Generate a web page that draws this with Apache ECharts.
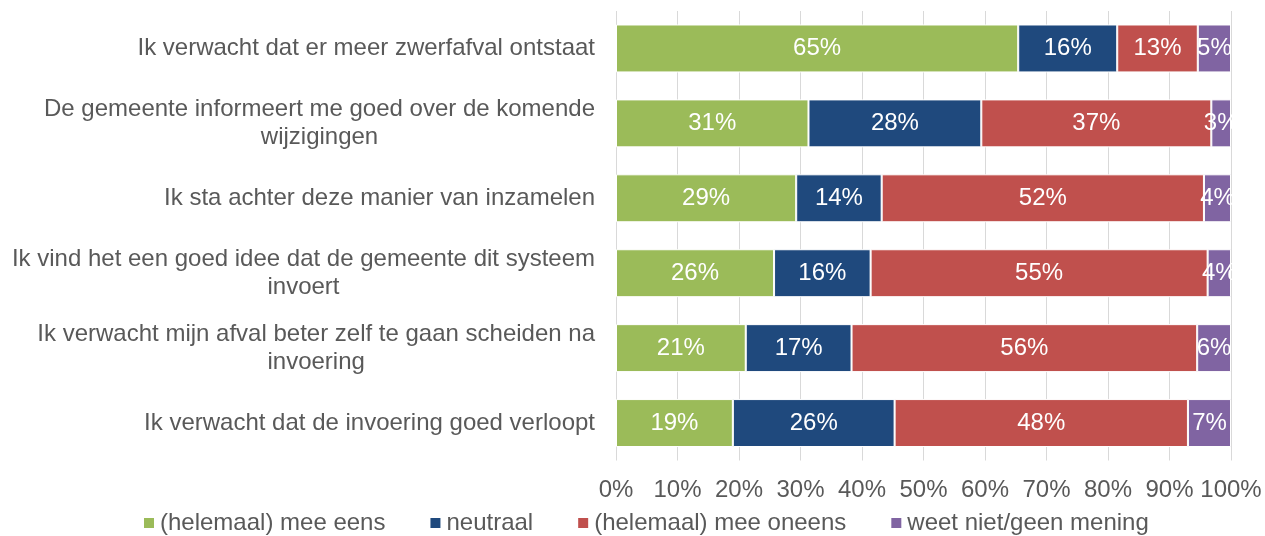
<!DOCTYPE html>
<html>
<head>
<meta charset="utf-8">
<style>
  html, body { margin: 0; padding: 0; background: #fff; }
  #chart { width: 1265px; height: 536px; }
</style>
<script src="https://cdn.jsdelivr.net/npm/echarts@6/dist/echarts.min.js"></script>
</head>
<body>
<div id="chart"></div>
<script>
// Survey statements (top to bottom)
const categories = [
  'Ik verwacht dat er meer zwerfafval ontstaat',
  'De gemeente informeert me goed over de komende\nwijzigingen',
  'Ik sta achter deze manier van inzamelen',
  'Ik vind het een goed idee dat de gemeente dit systeem\ninvoert',
  'Ik verwacht mijn afval beter zelf te gaan scheiden na\ninvoering',
  'Ik verwacht dat de invoering goed verloopt'
];

// Answer shares per statement, in percent
const meeEens   = [65.4, 31.3, 29.3, 25.7, 21.1, 19.0];
const neutraal  = [16.1, 28.1, 13.9, 15.7, 17.2, 26.3];
const meeOneens = [13.1, 37.4, 52.4, 54.8, 56.2, 47.7];
const weetNiet  = [5.4, 3.2, 4.4, 3.8, 5.5, 7.0];

const seriesNames = [
  '(helemaal) mee eens',
  'neutraal',
  '(helemaal) mee oneens',
  'weet niet/geen mening'
];

const xTicks = [0, 10, 20, 30, 40, 50, 60, 70, 80, 90, 100];

const colors = ['#9BBB59', '#1F497D', '#C0504D', '#8064A2'];
const font = '"Liberation Sans", Arial, sans-serif';
const textGrey = '#595959';

const chart = echarts.init(document.getElementById('chart'), null, { renderer: 'canvas' });

function barSeries(name, data, color) {
  return {
    name: name,
    type: 'bar',
    stack: 'total',
    data: data,
    barWidth: '64%',
    itemStyle: { color: color, borderColor: '#ffffff', borderWidth: 1 },
    label: {
      show: true,
      position: 'inside',
      color: '#ffffff',
      fontFamily: font,
      fontSize: 24,
      formatter: p => Math.round(p.value) + '%'
    },
    emphasis: { disabled: true }
  };
}

chart.setOption({
  animation: false,
  color: colors,
  grid: { left: 616, right: 34, top: 11, bottom: 75.5, containLabel: false },
  xAxis: {
    type: 'value',
    min: xTicks[0],
    max: xTicks[xTicks.length - 1],
    interval: 10,
    axisLine: { show: false },
    axisTick: { show: false },
    splitLine: { show: true, lineStyle: { color: '#D9D9D9', width: 1 } },
    axisLabel: {
      margin: 18,
      color: textGrey,
      fontFamily: font,
      fontSize: 24,
      formatter: v => v + '%'
    }
  },
  yAxis: {
    type: 'category',
    inverse: true,
    data: categories,
    axisLine: { show: false },
    axisTick: { show: false },
    axisLabel: {
      margin: 21,
      color: textGrey,
      fontFamily: font,
      fontSize: 24,
      lineHeight: 28,
      formatter: v => v.split('\n').map(l => '{c|' + l + '}').join('\n'),
      rich: {
        c: { align: 'center', color: textGrey, fontFamily: font, fontSize: 24, lineHeight: 28 }
      }
    }
  },
  legend: {
    left: 137,
    top: 506,
    itemWidth: 12,
    itemHeight: 12,
    itemGap: 43,
    icon: 'rect',
    selectedMode: false,
    textStyle: { color: textGrey, fontFamily: font, fontSize: 24 },
    data: seriesNames
  },
  series: [
    barSeries(seriesNames[0], meeEens, colors[0]),
    barSeries(seriesNames[1], neutraal, colors[1]),
    barSeries(seriesNames[2], meeOneens, colors[2]),
    barSeries(seriesNames[3], weetNiet, colors[3])
  ]
});
</script>
</body>
</html>
